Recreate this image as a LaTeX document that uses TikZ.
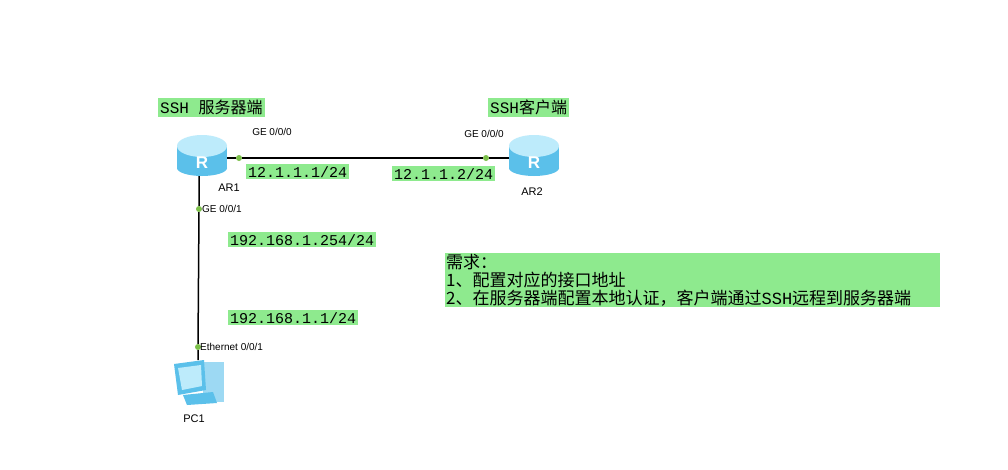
\documentclass[tikz,border=0pt]{standalone}
\usepackage{fontspec}
\setmainfont{Liberation Sans}
\setmonofont{Liberation Mono}
\newfontfamily\cjk{Noto Sans CJK SC}
\usetikzlibrary{positioning}
\definecolor{tagGreen}{HTML}{8EEA8E}
\definecolor{dotGreen}{HTML}{7CC04A}
\definecolor{rtBlue}{HTML}{5BC0EA}
\definecolor{rtLight}{HTML}{BDEBFB}
\tikzset{
  tag/.style={fill=tagGreen, inner sep=2pt, anchor=north west, font=\ttfamily\fontsize{15}{17}\selectfont},
  cntag/.style={tag, font=\cjk\fontsize{16}{18}\selectfont},
  port/.style={font=\fontsize{10}{11}\selectfont, inner sep=1pt},
  dev/.style={font=\fontsize{11}{12}\selectfont, inner sep=1pt},
  pdot/.style={circle, fill=dotGreen, inner sep=0pt, minimum size=6pt},
  link/.style={black, line width=1.5pt}
}
\newcommand{\routerpic}[1]{%
  \fill[rtBlue] ([shift={(-25,-8)}]#1) rectangle ([shift={(25,14)}]#1);
  \fill[rtBlue] ([shift={(0,14)}]#1) ellipse (25pt and 8pt);
  \fill[rtLight] ([shift={(0,-8)}]#1) ellipse (25pt and 11pt);
  \node[white, font=\bfseries\fontsize{17}{17}\selectfont] at ([shift={(0,9)}]#1) {R};
}
\begin{document}
\begin{tikzpicture}[x=1pt, y=-1pt]
\useasboundingbox[fill=white] (0,0) rectangle (1008,469);
% devices
\coordinate (AR1) at (202,154);
\coordinate (AR2) at (534,154);
\coordinate (PC1) at (198,382);
\node[pdot] (p1) at (239,158) {};
\node[pdot] (p2) at (486,158) {};
\node[pdot] (p3) at (199,209) {};
\node[pdot] (p4) at (198,347) {};
\draw[link] ([shift={(24,4)}]AR1) -- (p1) -- (p2) -- ([shift={(-24,4)}]AR2);
\draw[link] (199,176) -- (p3) -- (p4) -- ([shift={(0,-22)}]PC1);
\routerpic{AR1}
\routerpic{AR2}
% pc
\fill[rtBlue!60] ([shift={(5,-20)}]PC1) rectangle ([shift={(26,20)}]PC1);
\fill[rtBlue] ([shift={(-24,-18)}]PC1) -- ([shift={(6,-22)}]PC1) -- ([shift={(8,8)}]PC1) -- ([shift={(-20,13)}]PC1) -- cycle;
\fill[rtLight] ([shift={(-20,-14)}]PC1) -- ([shift={(3,-17)}]PC1) -- ([shift={(4,4)}]PC1) -- ([shift={(-16,8)}]PC1) -- cycle;
\fill[rtBlue] ([shift={(-15,13)}]PC1) -- ([shift={(15,10)}]PC1) -- ([shift={(19,21)}]PC1) -- ([shift={(-11,23)}]PC1) -- cycle;
% names
\node[dev] (n1) at (229,188) {AR1};
\node[dev] (n2) at (532,192) {AR2};
\node[dev] (n3) at (194,419) {PC1};
\node[port] (g1) at (272,132) {GE 0/0/0};
\node[port] (g2) at (484,134) {GE 0/0/0};
\node[port, anchor=west] (g3) at (201,209) {GE 0/0/1};
\node[port, anchor=west] (g4) at (199,347) {Ethernet 0/0/1};
% tags
\node[cntag] (t1) at (158,98) {\ttfamily SSH \cjk 服务器端};
\node[cntag] (t2) at (488,98) {\ttfamily SSH\cjk 客户端};
\node[tag] (ip1) at (246,164) {12.1.1.1/24};
\node[tag] (ip2) at (392,166) {12.1.1.2/24};
\node[tag] (ip3) at (228,232) {192.168.1.254/24};
\node[tag] (ip4) at (228,310) {192.168.1.1/24};
\node[cntag, align=left, inner sep=1pt, text width=493pt, font=\cjk\fontsize{17}{18}\selectfont] (req) at (445,253)
  {需求：\\1、配置对应的接口地址\\2、在服务器端配置本地认证，客户端通过{\ttfamily SSH}远程到服务器端};
\end{tikzpicture}
\end{document}
